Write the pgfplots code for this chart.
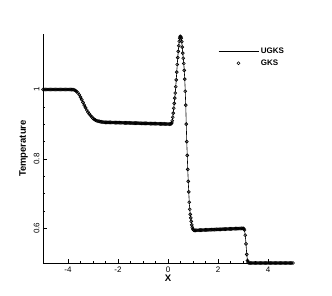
\documentclass[border=0pt]{standalone}
\usepackage{fontspec}
\setmainfont{Liberation Sans}
\usepackage{pgfplots}
\pgfplotsset{compat=1.18}
\usepackage{pgfplotstable}
\pgfplotsset{
  lineleg/.style={legend image code/.code={\draw[##1] (0pt,0pt) -- (40pt,0pt);}},
  markleg/.style={legend image code/.code={\draw[mark repeat=2,mark phase=2,##1] plot coordinates {(0pt,0pt)(20pt,0pt)(40pt,0pt)};}},
}
\pgfplotstableread{
x y
-5.00 1.0000
-4.95 1.0000
-4.90 1.0000
-4.85 1.0000
-4.80 1.0000
-4.75 1.0000
-4.70 1.0000
-4.65 1.0000
-4.60 1.0000
-4.55 1.0000
-4.50 1.0000
-4.45 1.0000
-4.40 1.0000
-4.35 1.0000
-4.30 1.0000
-4.25 1.0000
-4.20 1.0000
-4.15 1.0000
-4.10 1.0000
-4.05 1.0000
-4.00 1.0000
-3.95 1.0000
-3.90 1.0000
-3.85 0.9998
-3.80 0.9995
-3.75 0.9985
-3.70 0.9970
-3.65 0.9940
-3.60 0.9900
-3.55 0.9850
-3.50 0.9780
-3.45 0.9710
-3.40 0.9630
-3.35 0.9550
-3.30 0.9480
-3.25 0.9410
-3.20 0.9350
-3.15 0.9300
-3.10 0.9250
-3.05 0.9210
-3.00 0.9170
-2.95 0.9140
-2.90 0.9120
-2.85 0.9100
-2.80 0.9090
-2.75 0.9080
-2.70 0.9070
-2.65 0.9065
-2.60 0.9060
-2.55 0.9057
-2.50 0.9055
-2.45 0.9054
-2.40 0.9053
-2.35 0.9052
-2.30 0.9051
-2.25 0.9050
-2.20 0.9049
-2.15 0.9048
-2.10 0.9047
-2.05 0.9046
-2.00 0.9045
-1.95 0.9044
-1.90 0.9043
-1.85 0.9042
-1.80 0.9041
-1.75 0.9040
-1.70 0.9039
-1.65 0.9038
-1.60 0.9037
-1.55 0.9036
-1.50 0.9035
-1.45 0.9034
-1.40 0.9033
-1.35 0.9032
-1.30 0.9031
-1.25 0.9030
-1.20 0.9029
-1.15 0.9028
-1.10 0.9027
-1.05 0.9026
-1.00 0.9025
-0.95 0.9024
-0.90 0.9023
-0.85 0.9022
-0.80 0.9021
-0.75 0.9020
-0.70 0.9019
-0.65 0.9018
-0.60 0.9017
-0.55 0.9016
-0.50 0.9015
-0.45 0.9014
-0.40 0.9013
-0.35 0.9012
-0.30 0.9011
-0.25 0.9010
-0.20 0.9009
-0.15 0.9008
-0.10 0.9007
-0.05 0.9006
0.00 0.9005
0.05 0.9004
0.10 0.9006
0.13 0.9015
0.15 0.9040
0.17 0.9100
0.19 0.9200
0.21 0.9320
0.23 0.9460
0.25 0.9600
0.27 0.9750
0.29 0.9900
0.31 1.0080
0.33 1.0280
0.35 1.0500
0.37 1.0720
0.39 1.0920
0.41 1.1100
0.43 1.1260
0.45 1.1390
0.47 1.1480
0.49 1.1530
0.51 1.1520
0.53 1.1480
0.55 1.1380
0.57 1.1220
0.59 1.1050
0.61 1.0900
0.63 1.0750
0.65 1.0550
0.67 1.0300
0.69 0.9950
0.71 0.9550
0.73 0.9000
0.75 0.8500
0.77 0.8100
0.79 0.7700
0.81 0.7350
0.83 0.7050
0.85 0.6750
0.87 0.6550
0.89 0.6400
0.91 0.6300
0.93 0.6200
0.95 0.6100
0.97 0.6030
0.99 0.5980
1.02 0.5950
1.05 0.5940
1.10 0.5941
1.15 0.5943
1.20 0.5944
1.25 0.5946
1.30 0.5947
1.35 0.5949
1.40 0.5950
1.45 0.5952
1.50 0.5953
1.55 0.5955
1.60 0.5956
1.65 0.5958
1.70 0.5959
1.75 0.5961
1.80 0.5962
1.85 0.5964
1.90 0.5965
1.95 0.5967
2.00 0.5968
2.05 0.5970
2.10 0.5971
2.15 0.5973
2.20 0.5974
2.25 0.5976
2.30 0.5977
2.35 0.5979
2.40 0.5980
2.45 0.5982
2.50 0.5983
2.55 0.5985
2.60 0.5986
2.65 0.5988
2.70 0.5989
2.75 0.5991
2.80 0.5992
2.85 0.5994
2.90 0.5995
2.95 0.5997
3.00 0.5998
3.03 0.5990
3.06 0.5950
3.09 0.5800
3.12 0.5550
3.15 0.5250
3.18 0.5070
3.21 0.5010
3.25 0.5000
3.30 0.5000
3.35 0.5000
3.40 0.5000
3.45 0.5000
3.50 0.5000
3.55 0.5000
3.60 0.5000
3.65 0.5000
3.70 0.5000
3.75 0.5000
3.80 0.5000
3.85 0.5000
3.90 0.5000
3.95 0.5000
4.00 0.5000
4.05 0.5000
4.10 0.5000
4.15 0.5000
4.20 0.5000
4.25 0.5000
4.30 0.5000
4.35 0.5000
4.40 0.5000
4.45 0.5000
4.50 0.5000
4.55 0.5000
4.60 0.5000
4.65 0.5000
4.70 0.5000
4.75 0.5000
4.80 0.5000
4.85 0.5000
4.90 0.5000
4.95 0.5000
5.00 0.5000
}\datatable
\begin{document}
\begin{tikzpicture}
\begin{axis}[
  scale only axis, width=250pt, height=229pt,
  xmin=-5, xmax=5, ymin=0.5, ymax=1.16,
  axis x line*=bottom, axis y line*=left,
  axis line style={-, line width=0.8pt},
  tick align=inside,
  xtick={-4,-2,0,2,4}, ytick={0.6,0.8,1},
  minor tick num=3,
  major tick length=4pt, minor tick length=2pt,
  every tick/.style={black, line width=0.6pt},
  /pgf/number format/assume math mode=true,
  ticklabel style={font=\fontsize{8}{9}\selectfont},
  yticklabel style={rotate=90, anchor=south},
  xlabel={X}, ylabel={Temperature},
  label style={font=\bfseries\fontsize{9.5}{10}\selectfont},
  xlabel style={yshift=4pt},
  ylabel style={yshift=-1pt},
  clip=false,
  legend style={at={(rel axis cs:0.70,0.95)}, anchor=north west, draw=none, fill=none,
    font=\bfseries\fontsize{8}{9}\selectfont, inner sep=0pt, row sep=1pt,
    /tikz/every even column/.append style={column sep=4pt}},
  legend cell align=left,
]
\addplot[black, line width=0.6pt, lineleg] table[x=x,y=y] {\datatable};
\addlegendentry{UGKS}
\addplot[only marks, mark=o, mark size=1.5pt, mark options={black, line width=0.65pt}, markleg] table[x=x,y=y] {\datatable};
\addlegendentry{GKS}
\end{axis}
\pgfresetboundingbox
\path[use as bounding box] ([xshift=-43pt,yshift=-33pt]current axis.south west) rectangle ([xshift=39pt,yshift=34pt]current axis.north east);
\end{tikzpicture}
\end{document}
